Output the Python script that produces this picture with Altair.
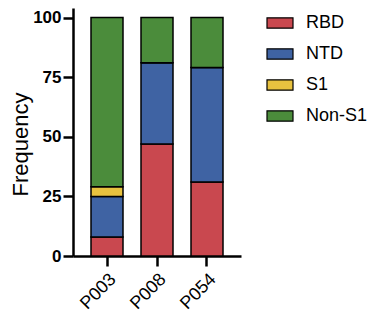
import altair as alt
import pandas as pd

samples = ["P003", "P008", "P054"]
categories = ["RBD", "NTD", "S1", "Non-S1"]
rbd = [8, 47, 31]
ntd = [17, 34, 48]
s1 = [4, 0, 0]
non_s1 = [71, 19, 21]
colors = ["#c9484f", "#3f63a3", "#e8c23f", "#4b8c3b"]

rows = []
for i, s in enumerate(samples):
    for k, (c, vals) in enumerate(zip(categories, [rbd, ntd, s1, non_s1])):
        rows.append({"sample": s, "cat": c, "order": k, "value": vals[i]})
df = pd.DataFrame(rows)

FONT = "Liberation Sans"

chart = alt.Chart(df).mark_bar(stroke="black", strokeWidth=1.5).encode(
    x=alt.X("sample:N", sort=samples, title=None,
            scale=alt.Scale(paddingInner=0.36, paddingOuter=0.36),
            axis=alt.Axis(labelAngle=-45, labelFontSize=18, labelFont=FONT,
                          labelColor="black", domainColor="black", domainWidth=2.5,
                          tickColor="black", tickWidth=2.5, tickSize=10, labelPadding=4)),
    y=alt.Y("value:Q", stack="zero", title="Frequency",
            scale=alt.Scale(domain=[0, 104], nice=False),
            axis=alt.Axis(values=[0, 25, 50, 75, 100], grid=False, labelFontSize=17,
                          labelFontWeight="bold", labelFont=FONT, labelColor="black",
                          titleFont=FONT, titleFontSize=22, titleFontWeight="normal",
                          titleColor="black", titleX=-53, titleY=136,
                          titleBaseline="middle", titleAlign="center",
                          domainColor="black", domainWidth=2.5, tickColor="black",
                          tickWidth=2.5, tickSize=10, labelPadding=2)),
    color=alt.Color("cat:N", sort=categories,
                    scale=alt.Scale(domain=categories, range=colors),
                    legend=alt.Legend(title=None, orient="none", legendX=193, legendY=1,
                                      symbolType="M-1,-0.4H1V0.4H-1Z", symbolSize=676,
                                      symbolStrokeColor="black", symbolStrokeWidth=1.2,
                                      labelFont=FONT, labelFontSize=18, labelColor="black",
                                      labelOffset=12, rowPadding=8)),
    order=alt.Order("order:Q"),
).properties(
    width=168, height=248, autosize=alt.AutoSizeParams(type="none"),
    padding={"left": 65, "top": 0, "right": 127, "bottom": 60},
).configure_view(stroke=None)

chart.save("out.html", embed_options={"renderer": "svg", "actions": False})
